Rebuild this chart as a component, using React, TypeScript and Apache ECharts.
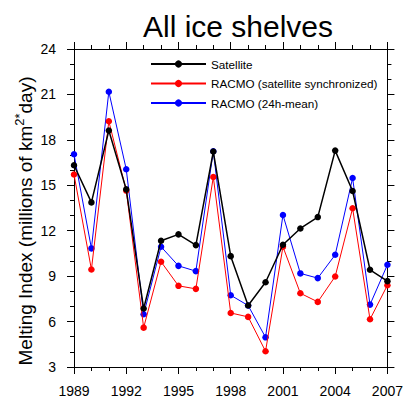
import React, { useEffect, useRef } from "react";
import * as echarts from "echarts";

const years = [1989, 1990, 1991, 1992, 1993, 1994, 1995, 1996, 1997, 1998, 1999, 2000, 2001, 2002, 2003, 2004, 2005, 2006, 2007];
const satellite = [16.32, 13.87, 18.62, 14.73, 6.86, 11.34, 11.76, 11.05, 17.23, 10.32, 7.06, 8.6, 11.07, 12.15, 12.9, 17.29, 14.62, 9.42, 8.67];
const racmoSync = [15.71, 9.44, 19.23, 14.65, 5.6, 9.95, 8.36, 8.16, 15.55, 6.57, 6.31, 4.04, 10.94, 7.87, 7.3, 8.98, 13.48, 6.15, 8.4];
const racmo24h = [17.05, 10.83, 21.18, 16.06, 6.48, 10.94, 9.68, 9.33, 17.25, 7.74, 7.06, 4.96, 13.04, 9.18, 8.87, 10.41, 15.48, 7.12, 9.75];
const seriesNames = ["Satellite", "RACMO (satellite synchronized)", "RACMO (24h-mean)"];
const seriesColors = ["#000000", "#ff0000", "#0000ff"];
const title = "All ice shelves";
const xMin = 1989, xMax = 2007, xStep = 3;
const yMin = 3, yMax = 24, yStep = 3;

const FONT = "Liberation Sans, Arial, Helvetica, sans-serif";

export default function App() {
  const ref = useRef<HTMLDivElement>(null);
  useEffect(() => {
    if (!ref.current) return;
    const chart = echarts.init(ref.current, undefined, { renderer: "svg" });
    const axisCommon = (show: boolean) => ({
      axisLine: { show: true, onZero: false, lineStyle: { color: "#000", width: 1 } },
      axisTick: { show: true, inside: false, length: 7, lineStyle: { color: "#000", width: 1 } },
      minorTick: { show: true, splitNumber: 3, length: 4, lineStyle: { color: "#000", width: 1 } },
      splitLine: { show: false },
      minorSplitLine: { show: false },
      axisLabel: show
        ? { show: true, color: "#000", fontSize: 14, fontFamily: FONT, formatter: (v: number) => String(v) }
        : { show: false },
    });
    const data = [satellite, racmoSync, racmo24h];
    chart.setOption({
      animation: false,
      title: {
        text: title,
        left: 233,
        top: 6,
        textAlign: "center",
        textStyle: { fontSize: 30, fontWeight: "normal", color: "#000", fontFamily: FONT },
      },
      grid: { left: 74, right: 14, top: 49, bottom: 32, containLabel: false },
      legend: {
        orient: "vertical",
        left: 150,
        top: 57,
        padding: 0,
        itemWidth: 55,
        itemHeight: 9,
        itemGap: 5.5,
        textStyle: { fontSize: 11.7, color: "#000", fontFamily: FONT, lineHeight: 14 },
        data: seriesNames,
      },
      xAxis: [
        { type: "value", min: xMin, max: xMax, interval: xStep, position: "bottom", ...axisCommon(true),
          axisLabel: { show: true, color: "#000", fontSize: 14, fontFamily: FONT, margin: 17, formatter: (v: number) => String(v) } },
        { type: "value", min: xMin, max: xMax, interval: xStep, position: "top", ...axisCommon(false) },
      ],
      yAxis: [
        { type: "value", min: yMin, max: yMax, interval: yStep, position: "left", ...axisCommon(true),
          axisLabel: { show: true, color: "#000", fontSize: 14, fontFamily: FONT, margin: 18, formatter: (v: number) => String(v) } },
        { type: "value", min: yMin, max: yMax, interval: yStep, position: "right", ...axisCommon(false) },
      ],
      graphic: [
        {
          type: "text",
          x: 24,
          y: 221,
          rotation: Math.PI / 2,
          style: {
            text: "{a|Melting Index (millions of km}{s|2*}{a|day)}",
            align: "center",
            verticalAlign: "middle",
            rich: {
              a: { fontSize: 19, fontFamily: FONT, fill: "#000", lineHeight: 22, verticalAlign: "bottom" },
              s: { fontSize: 13, fontFamily: FONT, fill: "#000", lineHeight: 22, verticalAlign: "top" },
            },
          },
        },
      ],
      series: seriesNames.map((name, i) => ({
        name,
        type: "line",
        xAxisIndex: 0,
        yAxisIndex: 0,
        data: years.map((y, k) => [y, data[i][k]]),
        symbol: "circle",
        symbolSize: 6.5,
        showSymbol: true,
        color: seriesColors[i],
        lineStyle: { color: seriesColors[i], width: i === 0 ? 1.5 : 1 },
        itemStyle: { color: seriesColors[i] },
        z: 3 - i,
      })),
    });
    return () => chart.dispose();
  }, []);
  return <div ref={ref} style={{ width: 406, height: 399, position: "absolute", left: 0, top: 0 }} />;
}
